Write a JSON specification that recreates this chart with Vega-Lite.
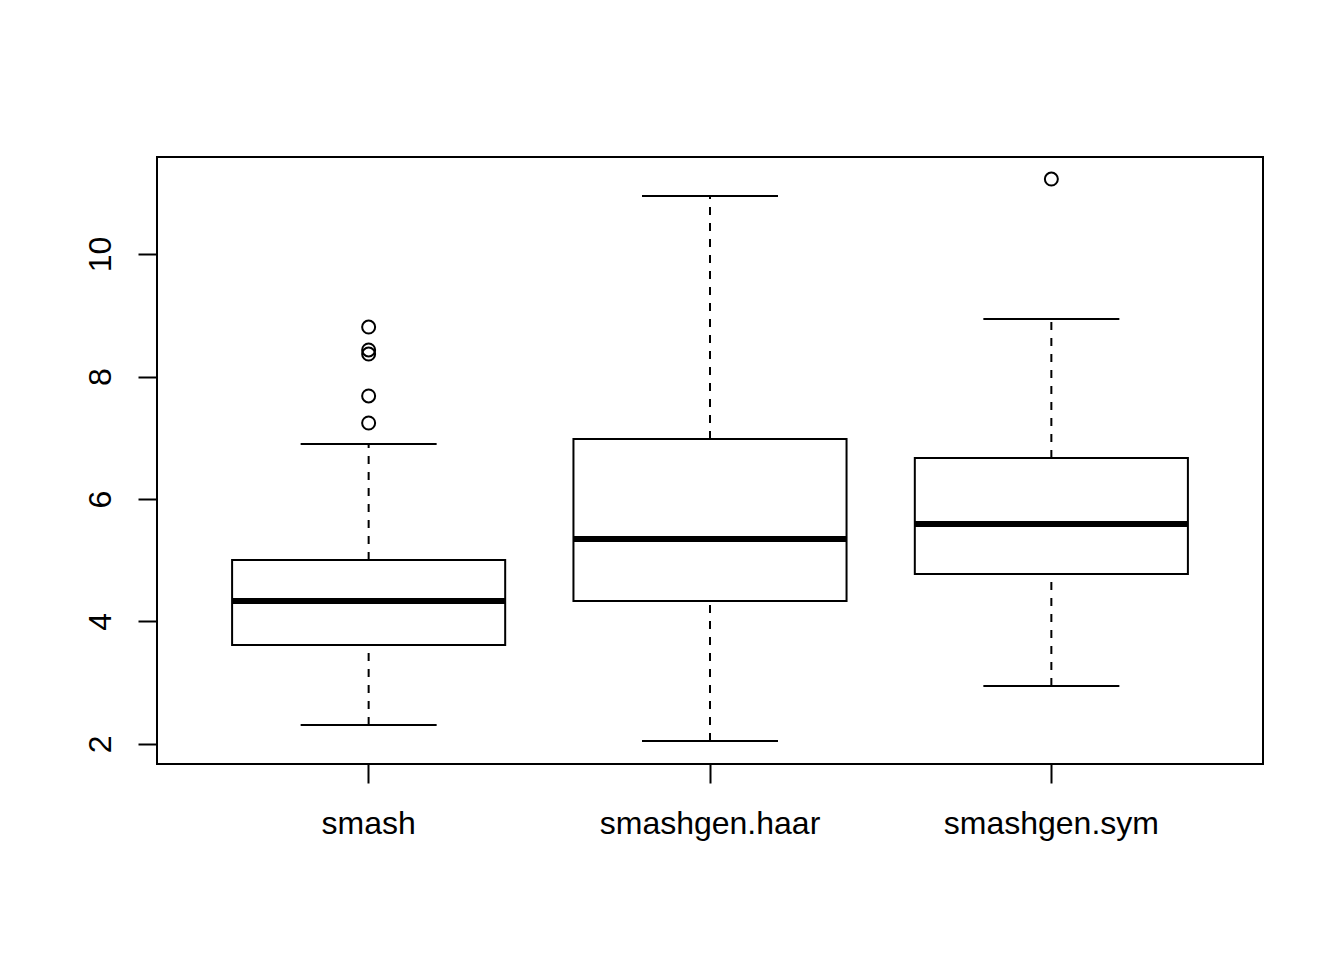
{
  "$schema": "https://vega.github.io/schema/vega-lite/v6.json",
  "width": 1106,
  "height": 607,
  "autosize": "none",
  "padding": {"left": 157, "top": 157, "right": 81, "bottom": 196},
  "background": "white",
  "config": {
    "view": {"stroke": "black", "strokeWidth": 2},
    "font": "Liberation Sans",
    "axis": {"grid": false, "domain": false, "tickColor": "black", "tickWidth": 2, "tickSize": 19, "labelColor": "black", "labelFontSize": 32, "labelFont": "Liberation Sans", "labelLimit": 0, "title": null}
  },
  "datasets": {
    "stats": [
      {"method": "smash", "lo": 2.31, "q1": 3.616, "median": 4.335, "q3": 5.004, "hi": 6.898},
      {"method": "smashgen.haar", "lo": 2.049, "q1": 4.335, "median": 5.347, "q3": 6.98, "hi": 10.947},
      {"method": "smashgen.sym", "lo": 2.947, "q1": 4.776, "median": 5.592, "q3": 6.669, "hi": 8.939}
    ],
    "outliers": [
      {"method": "smash", "value": 8.808},
      {"method": "smash", "value": 8.433},
      {"method": "smash", "value": 8.367},
      {"method": "smash", "value": 7.682},
      {"method": "smash", "value": 7.241},
      {"method": "smashgen.sym", "value": 11.224}
    ]
  },
  "encoding": {
    "x": {
      "field": "method", "type": "nominal", "sort": ["smash", "smashgen.haar", "smashgen.sym"],
      "scale": {"type": "band", "paddingInner": 0.2, "paddingOuter": 0.22},
      "axis": {"labelAngle": 0, "labelPadding": 25, "labelBaseline": "top"}
    }
  },
  "layer": [
    {
      "data": {"name": "stats"},
      "mark": {"type": "rule", "strokeDash": [8, 8], "strokeWidth": 2, "color": "black"},
      "encoding": {
        "y": {"field": "q3", "type": "quantitative", "scale": {"domain": [1.673, 11.584], "nice": false, "zero": false},
          "axis": {"values": [2, 4, 6, 8, 10], "format": "d", "labelAngle": 270, "labelAlign": "center", "labelBaseline": "alphabetic", "labelPadding": 28}},
        "y2": {"field": "hi"}
      }
    },
    {
      "data": {"name": "stats"},
      "mark": {"type": "rule", "strokeDash": [8, 8], "strokeWidth": 2, "color": "black"},
      "encoding": {"y": {"field": "lo", "type": "quantitative"}, "y2": {"field": "q1"}}
    },
    {
      "data": {"name": "stats"},
      "mark": {"type": "tick", "size": 136, "thickness": 2, "color": "black", "opacity": 1},
      "encoding": {"y": {"field": "hi", "type": "quantitative"}}
    },
    {
      "data": {"name": "stats"},
      "mark": {"type": "tick", "size": 136, "thickness": 2, "color": "black", "opacity": 1},
      "encoding": {"y": {"field": "lo", "type": "quantitative"}}
    },
    {
      "data": {"name": "stats"},
      "mark": {"type": "bar", "fill": "white", "stroke": "black", "strokeWidth": 2},
      "encoding": {"y": {"field": "q1", "type": "quantitative"}, "y2": {"field": "q3"}}
    },
    {
      "data": {"name": "stats"},
      "mark": {"type": "tick", "size": 273, "thickness": 6, "color": "black", "opacity": 1},
      "encoding": {"y": {"field": "median", "type": "quantitative"}}
    },
    {
      "data": {"name": "outliers"},
      "mark": {"type": "point", "shape": "circle", "filled": false, "size": 169, "stroke": "black", "strokeWidth": 2, "opacity": 1},
      "encoding": {"y": {"field": "value", "type": "quantitative"}}
    }
  ]
}
